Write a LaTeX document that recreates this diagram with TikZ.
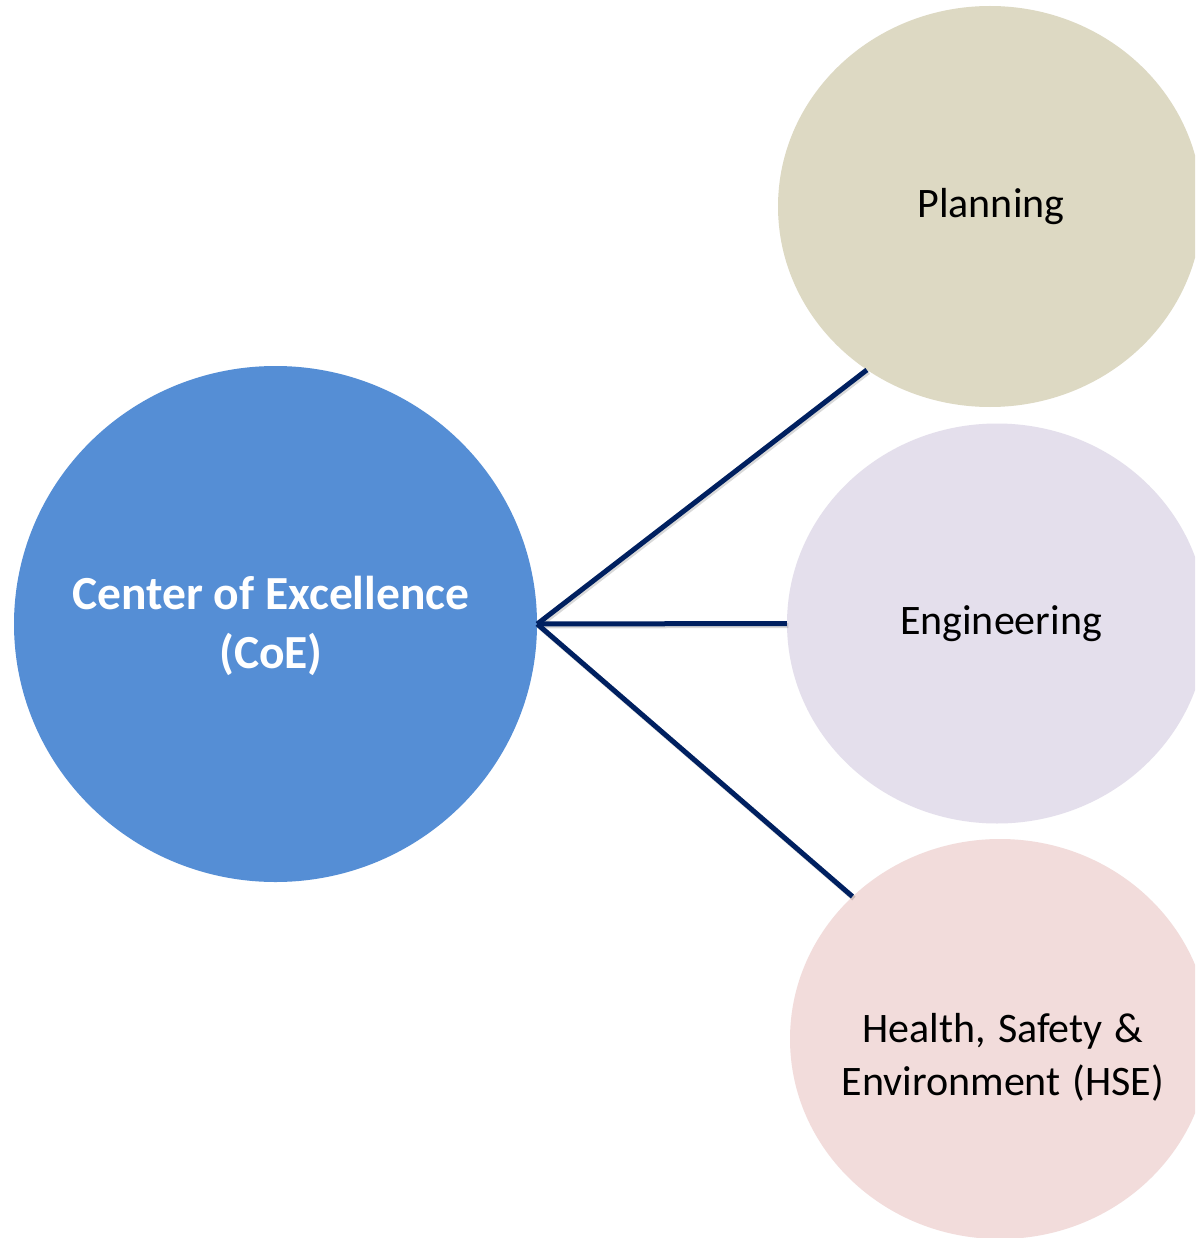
\documentclass[tikz,border=0pt]{standalone}
\usepackage{fontspec}
\setmainfont{Carlito}
\usetikzlibrary{shapes.geometric}
\definecolor{coeblue}{HTML}{558ED5}
\definecolor{planfill}{HTML}{DDD9C3}
\definecolor{engfill}{HTML}{E4DFEC}
\definecolor{hsefill}{HTML}{F2DCDB}
\definecolor{navyline}{HTML}{002060}
\newcommand{\widespaces}{\spaceskip 12pt\relax}
\begin{document}
\begin{tikzpicture}[x=1pt,y=-1pt,
  bubble/.style={ellipse, inner sep=0pt, draw=none},
  conn/.style={draw=navyline, line width=5pt},
  connshadow/.style={draw=black, opacity=0.15, line width=5pt},
  lbl/.style={font=\fontsize{42}{52}\selectfont, align=center, text=black, inner sep=0pt},
]
\useasboundingbox (0,0) rectangle (1195,1238);
\clip (0,0) rectangle (1195,1238);
\fill[white] (0,0) rectangle (1195,1238);
\node[bubble, fill=coeblue, minimum width=523pt, minimum height=516pt] (coe) at (275.5,624) {};
\node[bubble, fill=planfill, minimum width=424pt, minimum height=401pt] (plan) at (990,206.5) {};
\node[bubble, fill=engfill, minimum width=420pt, minimum height=400pt] (eng) at (997,623.5) {};
\node[bubble, fill=hsefill, minimum width=420pt, minimum height=400pt] (hse) at (1000,1039) {};
% connectors with faint shadow
\begin{scope}[transform canvas={xshift=1.5pt, yshift=-2pt}]
\draw[connshadow] (coe.east) -- (plan.233);
\draw[connshadow] (coe.east) -- (eng.west);
\draw[connshadow] (coe.east) -- (hse.136);
\end{scope}
\draw[conn] (coe.east) -- (plan.233);
\draw[conn] (coe.east) -- (eng.west);
\draw[conn] (coe.east) -- (hse.136);
% labels
\node[lbl, font=\fontsize{47.5}{59}\selectfont\bfseries, text=white] (coetext) at (271,626) {Center of Excellence\\(CoE)};
\node[lbl] (plantext) at (991,207) {Planning};
\node[lbl] (engtext) at (1001,624) {Engineering};
\node[lbl, font=\fontsize{42}{53}\selectfont\widespaces] (hsetext) at (1003,1057) {Health, Safety \&\\Environment (HSE)};
\end{tikzpicture}
\end{document}
